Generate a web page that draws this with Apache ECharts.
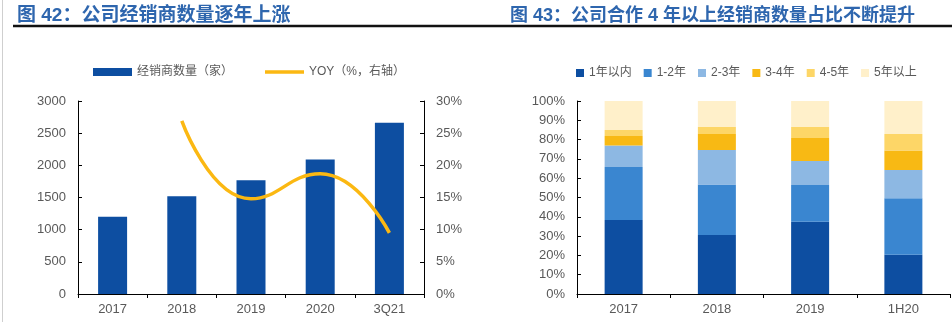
<!DOCTYPE html>
<html><head><meta charset="utf-8">
<script src="https://cdn.jsdelivr.net/npm/echarts@6/dist/echarts.min.js"></script>
<style>html,body{margin:0;padding:0;background:#fff}#c{width:952px;height:322px}</style>
</head><body><div id="c"></div>
<script>
// ---- Chart 42 data ----
const cats1 = ['2017', '2018', '2019', '2020', '3Q21'];
const dealers = [1200, 1520, 1770, 2090, 2660];
const yoy = [null, 26.9, 14.8, 18.7, 9.5];
const leftTicks = [0, 500, 1000, 1500, 2000, 2500, 3000];
// ---- Chart 43 data ----
const cats2 = ['2017', '2018', '2019', '1H20'];
const s1 = [38.3, 30.6, 37.5, 20.4];
const s2 = [27.5, 26.2, 19.0, 29.2];
const s3 = [11.2, 17.8, 12.4, 14.6];
const s4 = [4.9, 8.3, 11.9, 10.2];
const s5 = [3.1, 3.6, 5.7, 8.5];
const s6 = [15.0, 13.5, 13.5, 17.1];
const names2 = ['1年以内', '1-2年', '2-3年', '3-4年', '4-5年', '5年以上'];
const colors2 = ['#0D4EA1', '#3A86D0', '#8DB8E3', '#F8B914', '#FDD667', '#FFF0CA'];

const FONT = '"Liberation Sans", "Noto Sans CJK SC", sans-serif';
const grey = '#595959';
const chart = echarts.init(document.getElementById('c'));
const axisLine = {show: true, lineStyle: {color: '#000', width: 1}};
const labelStyle = {color: grey, fontSize: 13, fontFamily: FONT};

const data2 = [s1, s2, s3, s4, s5, s6];
const series2 = data2.map((d, i) => ({
  name: names2[i], type: 'bar', stack: 'total', xAxisIndex: 1, yAxisIndex: 2,
  barWidth: 38, data: d, itemStyle: {color: colors2[i]}
}));

chart.setOption({
  animation: false,
  textStyle: {fontFamily: FONT},
  title: [
    {text: '图 42：公司经销商数量逐年上涨', left: 12, top: 1,
     textStyle: {color: '#2E66AE', fontSize: 19, fontWeight: 'bold', fontFamily: FONT}},
    {text: '图 43：公司合作 4 年以上经销商数量占比不断提升', left: 505, top: 2,
     textStyle: {color: '#2E66AE', fontSize: 18, fontWeight: 'bold', fontFamily: FONT}}
  ],
  graphic: [
    {type: 'line', shape: {x1: 13, y1: 26, x2: 952, y2: 26}, style: {stroke: '#111', lineWidth: 2.5}},
    {type: 'line', shape: {x1: 2.5, y1: 0, x2: 2.5, y2: 322}, style: {stroke: '#cfcfcf', lineWidth: 1}}
  ],
  legend: [
    {left: 88, top: 61, itemWidth: 39, itemHeight: 8, itemGap: 32, itemTextGap: 4,
     textStyle: {color: grey, fontSize: 12, fontFamily: FONT},
     data: [{name: '经销商数量（家）', icon: 'rect'},
            {name: 'YOY（%，右轴）', icon: 'path://M0,0 L0.01,0 Z M0,2.2 L40,2.2 L40,5.8 L0,5.8 Z M0,8 L0.01,8 Z',
             itemStyle: {color: '#FBB812'}}]},
    {left: 571, top: 62, itemWidth: 8, itemHeight: 8, itemGap: 12, itemTextGap: 3,
     textStyle: {color: grey, fontSize: 12, fontFamily: FONT},
     data: names2.map(n => ({name: n, icon: 'rect'}))}
  ],
  grid: [
    {left: 78, right: 528, top: 101, bottom: 28},
    {left: 577, right: 2, top: 101, bottom: 28}
  ],
  xAxis: [
    {type: 'category', gridIndex: 0, data: cats1, boundaryGap: true,
     axisLine: axisLine, axisTick: {show: true, length: 4, lineStyle: {color: '#000'}},
     axisLabel: Object.assign({margin: 9}, labelStyle)},
    {type: 'category', gridIndex: 1, data: cats2, boundaryGap: true,
     axisLine: axisLine, axisTick: {show: true, length: 4, lineStyle: {color: '#000'}},
     axisLabel: Object.assign({margin: 9}, labelStyle)}
  ],
  yAxis: [
    {type: 'value', gridIndex: 0, min: leftTicks[0], max: leftTicks[leftTicks.length - 1], interval: 500,
     axisLine: axisLine, axisTick: {show: true, inside: true, length: 4, lineStyle: {color: '#000'}},
     splitLine: {show: false}, axisLabel: Object.assign({margin: 12, formatter: v => String(v)}, labelStyle)},
    {type: 'value', gridIndex: 0, position: 'right', min: 0, max: 30, interval: 5,
     axisLine: axisLine, axisTick: {show: true, inside: true, length: 4, lineStyle: {color: '#000'}},
     splitLine: {show: false}, axisLabel: Object.assign({margin: 12, formatter: '{value}%'}, labelStyle)},
    {type: 'value', gridIndex: 1, min: 0, max: 100, interval: 10,
     axisLine: axisLine, axisTick: {show: true, inside: true, length: 4, lineStyle: {color: '#000'}},
     splitLine: {show: false}, axisLabel: Object.assign({margin: 12, formatter: '{value}%'}, labelStyle)}
  ],
  series: [
    {name: '经销商数量（家）', type: 'bar', xAxisIndex: 0, yAxisIndex: 0, barWidth: 29,
     data: dealers, itemStyle: {color: '#0D4EA1'}},
    {name: 'YOY（%，右轴）', type: 'line', xAxisIndex: 0, yAxisIndex: 1, smooth: 0.5,
     symbol: 'none', showSymbol: false, connectNulls: false,
     data: yoy, lineStyle: {color: '#FBB812', width: 3.5}, itemStyle: {color: '#FBB812'}}
  ].concat(series2)
});
</script></body></html>
